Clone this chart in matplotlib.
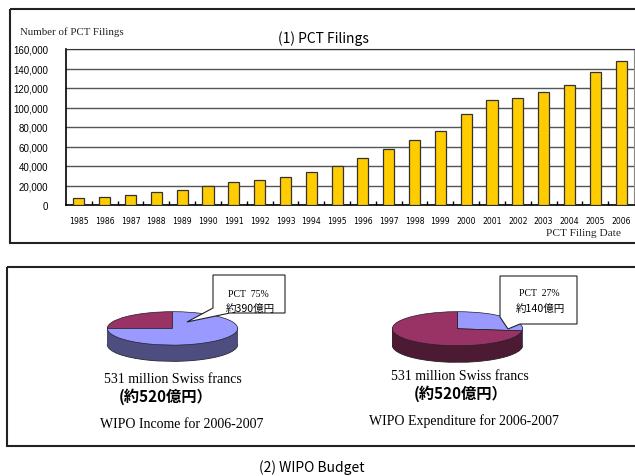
import numpy as np
import matplotlib
matplotlib.use('Agg')
import matplotlib.pyplot as plt
from matplotlib.patches import Rectangle, Polygon

# datos
years = [str(y) for y in range(1985, 2007)]
filings = [7500, 8400, 9900, 13000, 15000, 19800, 23200, 25400, 29000, 34000,
           40000, 48000, 57000, 67000, 76000, 93000, 108000, 110000, 116000,
           122600, 136000, 147500]
yticks = [0, 20000, 40000, 60000, 80000, 100000, 120000, 140000, 160000]

income_share = [25, 75]      # otros, PCT
expend_share = [27, 73]      # PCT, otros

azul, granate = '#9999ff', '#993366'
azul_osc, granate_osc = '#4d4d80', '#4d1a33'

cjk = ['Noto Sans CJK JP', 'DejaVu Sans']
serif = ['Liberation Serif', 'DejaVu Serif']

W, H = 635, 477
fig = plt.figure(figsize=(W / 100, H / 100), dpi=100)

def px(l, t, w, h):
    return [l / W, 1 - (t + h) / H, w / W, h / H]

#%% grafico de barras
ax = fig.add_axes(px(66, 50, 568, 156))
x = np.arange(len(years))
ax.bar(x, filings, width=0.43, color='#ffcc00', edgecolor='#333333', linewidth=0.9, zorder=3)
ax.set_xlim(-0.5, len(years) - 0.5)
ax.set_ylim(0, 160000)
ax.set_yticks(yticks)
ax.set_yticklabels(['{:,}'.format(v) for v in yticks], fontsize=7, family='Liberation Sans')
ax.set_xticks(x)
ax.set_xticklabels(years, fontsize=5.6, family='DejaVu Sans')
ax.set_xticks(x[:-1] + 0.5, minor=True)
ax.tick_params(axis='x', which='major', length=0, pad=8)
ax.tick_params(axis='x', which='minor', length=3, direction='in', width=1)
ax.tick_params(axis='y', length=0, pad=13)
ax.grid(axis='y', color='#555555', linewidth=1, zorder=0)
for s in ['left', 'bottom']:
    ax.spines[s].set_color('black')
    ax.spines[s].set_linewidth(1.2)
ax.spines['top'].set_color('#333333')
ax.spines['right'].set_color('#888888')

#%% tartas 3D
def tarta(pos, shares, colores, lados, counterclock):
    a = fig.add_axes(pos)
    prof = 0.97
    capas = np.linspace(prof, 0, 30)[:-1]
    for i, t in enumerate(capas):
        a.pie(shares, colors=lados, startangle=90, counterclock=counterclock,
              center=(0, -t),
              wedgeprops=dict(linewidth=0.6 if i == 0 else 0, edgecolor='#222222'))
    a.pie(shares, colors=colores, startangle=90, counterclock=counterclock,
          wedgeprops=dict(linewidth=0.5, edgecolor='#222222'))
    a.set_aspect('auto')
    a.set_xlim(-1.02, 1.02)
    a.set_ylim(-1 - prof - 0.04, 1.04)
    a.axis('off')
    return a

tarta(px(106, 312, 133, 51), income_share, [granate, azul], [granate_osc, azul_osc], True)
tarta(px(391, 312, 133, 52), expend_share, [azul, granate], [azul_osc, granate_osc], False)

#%% cajas y textos
ov = fig.add_axes([0, 0, 1, 1], facecolor='none')
ov.set_xlim(0, W)
ov.set_ylim(H, 0)
ov.axis('off')

ov.add_patch(Rectangle((10, 10), 640, 234, fill=False, edgecolor='#222222', linewidth=1.5))
ov.add_patch(Rectangle((7, 268), 640, 179, fill=False, edgecolor='#222222', linewidth=1.5))

ov.text(323, 39, '(1) PCT Filings', fontsize=10, family=cjk, ha='center', va='center')
ov.text(20, 32, 'Number of PCT Filings', fontsize=7.8, family=serif, ha='left', va='center', color='#222222')
ov.text(584, 234, 'PCT Filing Date', fontsize=8.2, family=serif, ha='center', va='center', color='#222222')

# bocadillos
ov.add_patch(Polygon([(213, 276), (285, 276), (285, 314), (230, 314), (187, 323), (213, 309)],
                     closed=True, facecolor='white', edgecolor='#222222', linewidth=0.8))
ov.text(248, 295, 'PCT  75%', fontsize=7, family=serif, ha='center', va='center')
ov.text(250, 309, '約390億円', fontsize=7.6, family=cjk, ha='center', va='center')

ov.add_patch(Polygon([(500, 277), (577, 277), (577, 325), (520, 325), (508, 330), (500, 318)],
                     closed=True, facecolor='white', edgecolor='#222222', linewidth=0.8))
ov.text(539, 294, 'PCT  27%', fontsize=7, family=serif, ha='center', va='center')
ov.text(540, 309, '約140億円', fontsize=7.6, family=cjk, ha='center', va='center')

ov.text(173, 380, '531 million Swiss francs', fontsize=10, family=serif, ha='center', va='center')
ov.text(166, 397, '(約520億円）', fontsize=11, family=cjk, ha='center', va='center', weight='bold')
ov.text(182, 425, 'WIPO Income for 2006-2007', fontsize=10, family=serif, ha='center', va='center')

ov.text(460, 377, '531 million Swiss francs', fontsize=10, family=serif, ha='center', va='center')
ov.text(461, 394, '(約520億円）', fontsize=11, family=cjk, ha='center', va='center', weight='bold')
ov.text(464, 421, 'WIPO Expenditure for 2006-2007', fontsize=10, family=serif, ha='center', va='center')

ov.text(312, 468, '(2) WIPO Budget', fontsize=10, family=cjk, ha='center', va='center')

fig.savefig('out.png', dpi=100)
